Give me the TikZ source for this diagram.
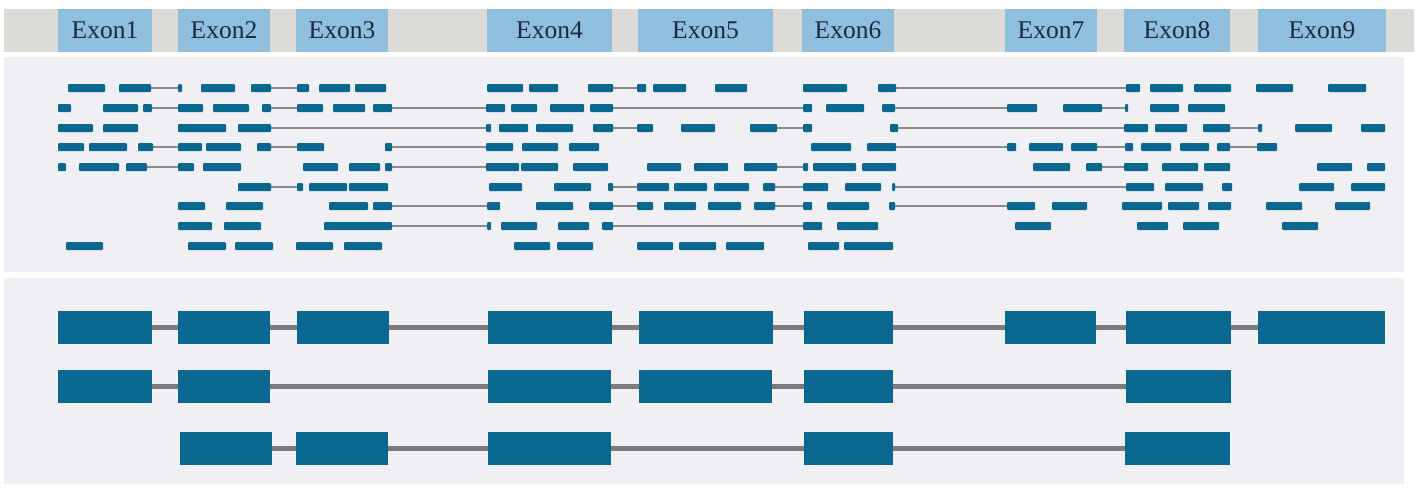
\documentclass[tikz,border=0pt]{standalone}
\usepackage{fontspec}
\setmainfont{Liberation Serif}
\definecolor{readblue}{HTML}{0A6890}
\definecolor{intronline}{HTML}{8A8A8A}
\definecolor{modelline}{HTML}{7C7C7C}
\definecolor{bandgray}{HTML}{DDDBD8}
\definecolor{labelblue}{HTML}{8FBFDF}
\definecolor{panelbg}{HTML}{EFEFF4}
\definecolor{labeltext}{HTML}{1C2A3C}
\tikzset{
  band/.style={fill=bandgray},
  panel/.style={fill=panelbg},
  exlabel/.style={fill=labelblue, inner sep=0pt, minimum height=43pt,
    font=\fontsize{25.5}{28}\selectfont, text=labeltext},
  readbox/.style={fill=readblue, rounded corners=1pt},
  splice/.style={draw=intronline, line width=1.8pt},
  exonbox/.style={fill=readblue},
  modelintron/.style={draw=modelline, line width=5pt},
}
% one row of aligned reads: y, list of spliced gaps, list of read blocks
\newcommand{\readgaps}[2]{%
  \foreach \a/\b in {#2} {\draw[splice] (\a,#1) -- (\b,#1);}}
\newcommand{\readblocks}[2]{%
  \foreach \a/\b in {#2} {\fill[readbox] (\a,#1-4) rectangle (\b,#1+4);}}
\begin{document}
\begin{tikzpicture}[x=1pt, y=-1pt]
\useasboundingbox (0,0) rectangle (1416,488);
\fill[white] (0,0) rectangle (1416,488);

% header band with exon labels
\fill[band] (4,9) rectangle (1414,52);
\foreach \n/\l/\r in {1/58/152, 2/178/270, 3/296/388, 4/487/612, 5/638/773,
                      6/802/894, 7/1005/1097, 8/1124/1230, 9/1258/1386} {
  \pgfmathsetmacro{\w}{\r-\l}
  \node[exlabel, minimum width=\w pt] (h\n) at ({(\l+\r)/2},30.5) {Exon\n};
}

% panels
\fill[panel] (4,57) rectangle (1404,272);
\fill[panel] (4,278) rectangle (1404,484);

% read pile-up
\readgaps{88}{151/178, 271/297, 613/637, 896/1126}
\readblocks{88}{68/105, 119/151, 178/182, 201/235, 251/271, 297/309, 319/350,
  355/386, 487/523, 529/558, 588/613, 637/646, 653/686, 715/747, 803/847,
  878/896, 1126/1140, 1150/1183, 1194/1231, 1256/1293, 1328/1366}

\readgaps{108}{152/178, 271/297, 392/486, 613/803, 895/1007, 1102/1125}
\readblocks{108}{58/71, 103/138, 143/152, 178/203, 213/249, 262/271, 297/323,
  333/365, 373/392, 486/505, 511/537, 550/584, 590/613, 803/812, 826/864,
  882/895, 1007/1037, 1063/1102, 1125/1128, 1150/1179, 1188/1225}

\readgaps{128}{271/486, 613/637, 777/803, 898/1124, 1230/1258}
\readblocks{128}{58/93, 103/138, 178/226, 238/271, 486/491, 499/528, 536/573,
  593/613, 637/653, 681/715, 750/777, 803/812, 890/898, 1124/1148, 1155/1187,
  1203/1230, 1258/1262, 1295/1332, 1361/1385}

\readgaps{147}{153/178, 271/297, 392/486, 896/1007, 1097/1125, 1230/1257}
\readblocks{147}{58/84, 89/127, 138/153, 178/202, 206/241, 257/271, 297/324,
  385/392, 486/513, 522/558, 569/599, 811/851, 867/896, 1007/1016, 1029/1063,
  1071/1097, 1125/1133, 1141/1171, 1180/1209, 1217/1230, 1257/1277}

\readgaps{167}{147/178, 392/486, 777/803, 1102/1124}
\readblocks{167}{58/66, 79/119, 126/147, 178/194, 203/241, 303/338, 349/380,
  385/392, 486/519, 521/558, 573/608, 647/681, 694/728, 744/777, 803/808,
  813/856, 862/896, 1033/1070, 1086/1102, 1124/1148, 1162/1198, 1204/1230,
  1317/1352, 1367/1385}

\readgaps{187}{271/297, 613/637, 775/803, 895/1126}
\readblocks{187}{238/271, 297/303, 309/347, 349/388, 489/522, 554/591, 608/613,
  637/669, 674/707, 714/749, 763/775, 803/828, 845/881, 892/895, 1126/1154,
  1165/1203, 1222/1232, 1299/1334, 1351/1385}

\readgaps{206}{392/487, 613/637, 775/803, 895/1007}
\readblocks{206}{178/205, 226/263, 329/368, 373/392, 487/500, 536/573, 589/613,
  637/653, 664/696, 708/741, 754/775, 803/812, 827/869, 889/895, 1007/1035,
  1052/1087, 1122/1162, 1168/1199, 1208/1231, 1266/1302, 1335/1370}

\readgaps{226}{392/487, 613/803}
\readblocks{226}{178/212, 224/261, 324/392, 487/491, 501/537, 558/589, 602/613,
  803/822, 837/878, 1015/1051, 1137/1168, 1183/1219, 1282/1318}

\readblocks{246}{66/103, 188/226, 235/273, 296/333, 344/382, 514/550, 557/593,
  637/673, 679/716, 726/764, 808/839, 844/893}

% transcript models
\draw[modelintron] (152,327) -- (1258,327);
\foreach \n/\l/\r in {1/58/152, 2/178/270, 3/297/389, 4/488/612, 5/639/773,
                      6/804/893, 7/1005/1096, 8/1126/1231, 9/1258/1385} {
  \node[exonbox, inner sep=0pt, minimum height=33pt, minimum width={(\r-\l)*1pt}]
    (ta\n) at ({(\l+\r)/2},327) {};
}
\draw[modelintron] (152,386) -- (1126,386);
\foreach \n/\l/\r in {1/58/152, 2/178/270, 4/488/611, 5/639/772,
                      6/804/893, 8/1126/1231} {
  \node[exonbox, inner sep=0pt, minimum height=33pt, minimum width={(\r-\l)*1pt}]
    (tb\n) at ({(\l+\r)/2},386) {};
}
\draw[modelintron] (272,448) -- (1126,448);
\foreach \n/\l/\r in {2/180/272, 3/296/388, 4/488/611, 6/804/893, 8/1125/1230} {
  \node[exonbox, inner sep=0pt, minimum height=33pt, minimum width={(\r-\l)*1pt}]
    (tc\n) at ({(\l+\r)/2},448) {};
}
\end{tikzpicture}
\end{document}
